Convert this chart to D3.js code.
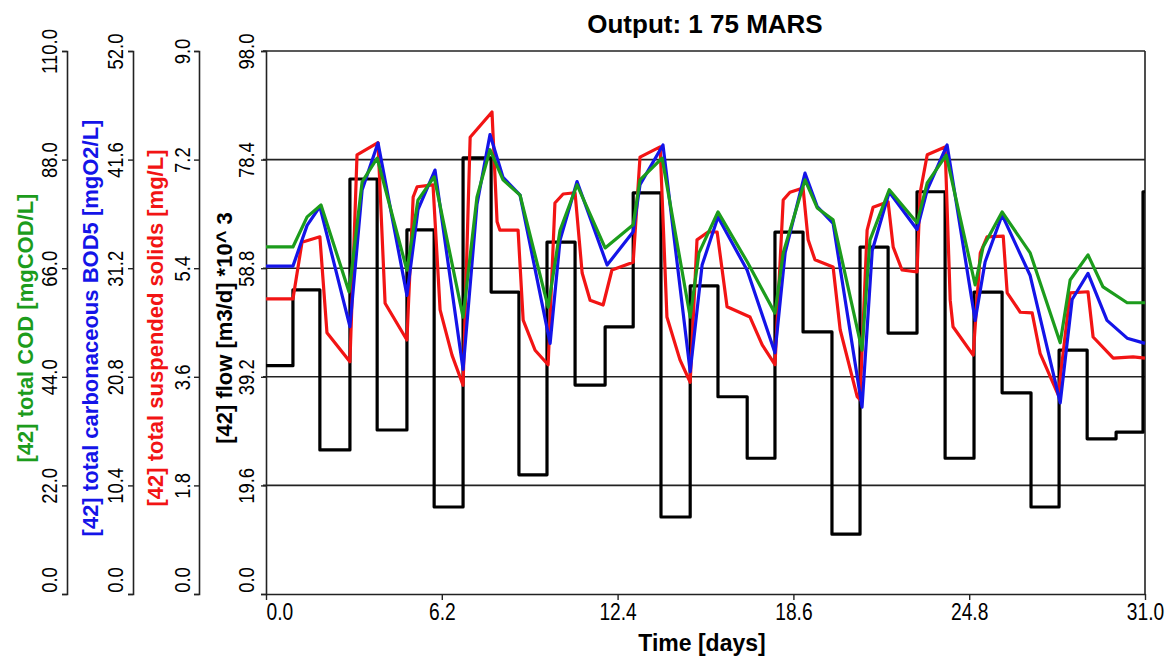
<!DOCTYPE html>
<html>
<head>
<meta charset="utf-8">
<script src="https://cdn.jsdelivr.net/npm/d3@7"></script>
<style>
  body { margin: 0; background: #fff; }
  svg { display: block; }
  .tick text { font-family: "Liberation Sans", Arial, sans-serif; font-size: 22px; fill: #000; }
  .axtitle { font-family: "Liberation Sans", Arial, sans-serif; font-weight: bold; font-size: 22px; }
</style>
</head>
<body>
<div id="chart"></div>
<script>
const width = 1169, height = 660;

// flow step series [m3/d] *10^3
const flowT = [0, 0.95, 1.90, 2.96, 3.92, 4.97, 5.93, 6.95, 7.94, 8.92, 9.91, 10.90, 11.96, 12.95, 13.93, 14.96,
  15.94, 16.97, 17.95, 18.94, 19.96, 20.95, 21.94, 22.96, 23.95, 24.97, 25.96, 26.98, 27.97, 28.96, 29.98, 30.93, 31];
const flowV = [41.2, 54.9, 26.0, 74.9, 29.6, 65.7, 15.7, 78.7, 54.5, 21.5, 63.5, 37.7, 48.2, 72.4, 13.9, 55.6,
  35.6, 24.5, 65.3, 47.3, 10.8, 62.6, 47.1, 72.6, 24.5, 54.5, 36.3, 15.7, 44.0, 28.0, 29.2, 72.6, 72.6];

// total COD [mgCOD/L]
const codT = [0, 0.95, 1.45, 1.94, 2.93, 3.39, 3.92, 4.97, 5.36, 5.93, 6.95, 7.44, 7.90, 8.36, 8.96, 9.95, 10.37, 10.97,
  11.96, 12.95, 13.19, 13.97, 14.96, 15.27, 15.94, 16.97, 17.95, 18.24, 19.01, 19.44, 20.00, 21.02, 21.30, 21.98,
  22.96, 23.32, 23.99, 25.01, 25.29, 25.96, 26.95, 28.01, 28.36, 28.99, 29.52, 30.37, 31];
const codV = [70.3, 70.3, 76.4, 78.8, 61.2, 83.5, 88.3, 65.6, 79.8, 84.5, 56.1, 80.4, 90.0, 83.9, 80.8, 58.1, 73.7, 82.9,
  70.1, 74.8, 83.9, 88.3, 56.1, 69.1, 77.4, 67.3, 56.9, 69.1, 83.9, 78.2, 75.8, 49.4, 71.7, 81.9,
  75.2, 83.3, 88.9, 62.6, 70.3, 77.4, 69.1, 50.9, 63.6, 68.7, 62.2, 59.0, 59.0];

// total carbonaceous BOD5 [mgO2/L]
const bodT = [0, 0.95, 1.45, 1.90, 2.96, 3.39, 3.95, 4.97, 5.36, 5.96, 6.95, 7.44, 7.90, 8.36, 8.96, 10.02, 10.37, 10.97,
  12.03, 12.95, 13.19, 14.00, 14.96, 15.38, 15.94, 16.97, 17.95, 18.31, 19.01, 19.44, 20.00, 21.02, 21.38, 21.98,
  22.96, 23.32, 24.02, 25.01, 25.36, 25.96, 26.95, 28.01, 28.43, 28.99, 29.66, 30.37, 31];
const bodV = [31.4, 31.4, 35.3, 37.1, 25.6, 38.7, 43.2, 28.6, 36.8, 40.6, 21.5, 37.3, 44.0, 39.9, 38.2, 24.0, 33.9, 39.5,
  31.5, 34.7, 39.2, 43.0, 21.3, 31.5, 36.1, 31.0, 23.1, 32.7, 40.3, 37.1, 35.5, 17.9, 32.9, 38.5,
  34.9, 38.7, 43.0, 26.2, 31.8, 36.3, 30.5, 18.3, 28.2, 30.7, 26.2, 24.5, 24.0];

// total suspended solids [mg/L]
const tssT = [0, 0.95, 1.27, 1.90, 2.15, 2.96, 3.21, 3.95, 4.20, 4.97, 5.19, 5.33, 5.89, 6.14, 6.56, 6.95, 7.20, 7.97,
  8.15, 8.25, 8.89, 9.07, 9.49, 9.95, 10.19, 10.48, 10.90, 11.15, 11.43, 11.89, 12.20, 12.95, 13.19, 13.90, 14.14,
  14.60, 14.96, 15.20, 15.59, 15.91, 16.26, 17.07, 17.50, 17.95, 18.24, 18.48, 18.94, 19.12, 19.36, 20.00, 20.25,
  20.85, 20.95, 21.20, 21.41, 21.94, 22.12, 22.43, 22.96, 23.07, 23.32, 23.95, 24.13, 24.23, 24.94, 25.19, 25.43,
  26.00, 26.14, 26.60, 27.02, 27.30, 27.94, 28.36, 28.99, 29.17, 29.88, 30.58, 31];
const tssV = [4.89, 4.89, 5.83, 5.92, 4.33, 3.85, 7.28, 7.48, 4.82, 4.21, 6.58, 6.75, 6.78, 4.71, 3.96, 3.46, 7.57, 7.99,
  6.17, 6.03, 6.03, 4.54, 4.04, 3.80, 6.48, 6.63, 6.65, 5.32, 4.87, 4.79, 5.37, 5.50, 7.24, 7.41, 4.59,
  3.88, 3.51, 5.87, 6.00, 6.00, 4.76, 4.59, 4.13, 3.80, 6.53, 6.66, 6.73, 5.87, 5.54, 5.42, 4.38,
  3.27, 3.22, 6.03, 6.41, 6.50, 5.75, 5.37, 5.34, 6.65, 7.28, 7.41, 4.87, 4.43, 3.96, 5.65, 5.92,
  5.93, 4.99, 4.67, 4.66, 3.99, 3.30, 4.99, 5.01, 4.26, 3.91, 3.93, 3.91];

// tick labels
const xTicks = [0, 6.2, 12.4, 18.6, 24.8, 31.0];
const flowTicks = [0, 19.6, 39.2, 58.8, 78.4, 98.0];
const tssTicks = [0, 1.8, 3.6, 5.4, 7.2, 9.0];
const bodTicks = [0, 10.4, 20.8, 31.2, 41.6, 52.0];
const codTicks = [0, 22, 44, 66, 88, 110];

const plot = {left: 266, right: 1145, top: 51, bottom: 594};
const green = "#1c9c1c", blue = "#1414e8", red = "#f21414";

let svg = d3.select("#chart").append("svg")
    .attr("width", width)
    .attr("height", height);

let x = d3.scaleLinear().domain([0, 31]).range([plot.left, plot.right]);
let yFlow = d3.scaleLinear().domain([0, 98]).range([plot.bottom, plot.top]);
let yTss = d3.scaleLinear().domain([0, 9]).range([plot.bottom, plot.top]);
let yBod = d3.scaleLinear().domain([0, 52]).range([plot.bottom, plot.top]);
let yCod = d3.scaleLinear().domain([0, 110]).range([plot.bottom, plot.top]);

// grid lines
svg.append("g")
    .selectAll("line")
    .data(flowTicks.slice(1))
    .join("line")
        .attr("x1", plot.left - 3)
        .attr("x2", plot.right)
        .attr("y1", d => yFlow(d))
        .attr("y2", d => yFlow(d))
        .attr("stroke", "#222")
        .attr("stroke-width", 1.6);

svg.append("line")
    .attr("x1", plot.right).attr("x2", plot.right)
    .attr("y1", plot.top).attr("y2", plot.bottom)
    .attr("stroke", "#222")
    .attr("stroke-width", 1.6);

// left axes, labels turned and a bit condensed like the original
function leftAxis(scale, ticks, xpos, labelOff, color, title, titleX) {
    let g = svg.append("g")
        .attr("transform", `translate(${xpos},0)`)
        .call(d3.axisLeft(scale).tickValues(ticks).tickFormat(d3.format(".1f")).tickSize(5).tickSizeOuter(5));
    g.select(".domain").attr("stroke", "#222").attr("stroke-width", 1.6);
    g.selectAll(".tick line").attr("stroke", "#222").attr("stroke-width", 1.4);
    g.selectAll(".tick text")
        .attr("x", (d, i) => i == 0 ? 2 : 0)
        .attr("y", 0)
        .attr("dy", "0.36em")
        .attr("text-anchor", (d, i) => i == 0 ? "start" : "middle")
        .attr("transform", `translate(${-labelOff},0) rotate(-90) scale(0.84,1)`);
    svg.append("text")
        .attr("class", "axtitle")
        .attr("fill", color)
        .attr("text-anchor", "middle")
        .attr("dy", "0.36em")
        .attr("transform", `translate(${titleX},328) rotate(-90)`)
        .text(title);
}

leftAxis(yCod, codTicks, 67, 18, green, "[42] total COD [mgCOD/L]", 25);
leftAxis(yBod, bodTicks, 133, 18, blue, "[42] total carbonaceous BOD5 [mgO2/L]", 90);
leftAxis(yTss, tssTicks, 199, 17, red, "[42] total suspended solids [mg/L]", 155);
leftAxis(yFlow, flowTicks, plot.left, 20, "#000", "[42] flow [m3/d] *10^ 3", 224);

// bottom axis
let xg = svg.append("g")
    .attr("transform", `translate(0,${plot.bottom})`)
    .call(d3.axisBottom(x).tickValues(xTicks).tickFormat(d3.format(".1f")).tickSize(6).tickSizeOuter(0));
xg.select(".domain").attr("stroke", "#222").attr("stroke-width", 1.6);
xg.selectAll(".tick line").attr("stroke", "#222").attr("stroke-width", 1.4);
xg.selectAll(".tick text")
    .attr("y", 9)
    .style("font-size", "24px")
    .attr("transform", "scale(0.8,1)")
    .attr("text-anchor", (d, i) => i == 0 ? "start" : "middle");

svg.append("text")
    .attr("class", "axtitle")
    .attr("x", 702)
    .attr("y", 651)
    .attr("text-anchor", "middle")
    .style("font-size", "23px")
    .text("Time [days]");

svg.append("text")
    .attr("class", "axtitle")
    .attr("x", 705)
    .attr("y", 33)
    .attr("text-anchor", "middle")
    .style("font-size", "26px")
    .text("Output: 1 75 MARS");

// series
function drawLine(ts, vs, yScale, color, curve) {
    let pts = ts.map((t, i) => [t, vs[i]]);
    let line = d3.line()
        .x(d => x(d[0]))
        .y(d => yScale(d[1]))
        .curve(curve);
    svg.append("path")
        .datum(pts)
        .attr("fill", "none")
        .attr("stroke", color)
        .attr("stroke-width", 3.2)
        .attr("stroke-linejoin", "round")
        .attr("d", line);
}

drawLine(flowT, flowV, yFlow, "#000", d3.curveStepAfter);
drawLine(tssT, tssV, yTss, red, d3.curveLinear);
drawLine(bodT, bodV, yBod, blue, d3.curveLinear);
drawLine(codT, codV, yCod, green, d3.curveLinear);
</script>
</body>
</html>
